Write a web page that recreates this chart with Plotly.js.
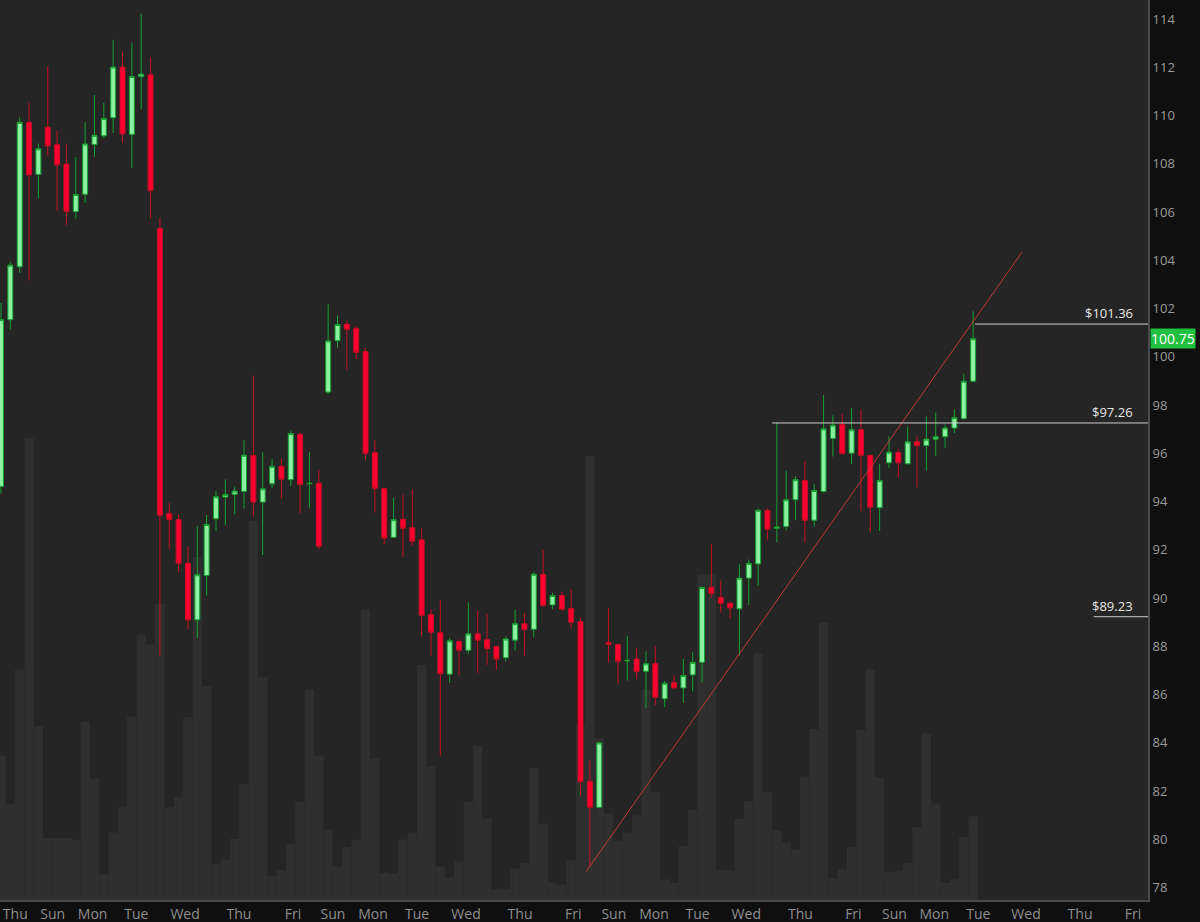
<!DOCTYPE html>
<html>
<head>
<meta charset="utf-8">
<script src="https://cdn.plot.ly/plotly-3.0.1.min.js"></script>
<style>
  html, body { margin: 0; padding: 0; background: #0f0f0f; }
  #chart { width: 1200px; height: 922px; }
</style>
</head>
<body>
<div id="chart"></div>
<script>
// ---- OHLC data (4-hour bars) ----
const openP = [94.63,101.54,103.73,109.72,107.56,109.52,108.79,107.99,106.02,106.74,
  108.80,109.16,109.91,112.01,109.22,111.61,111.69,105.32,93.50,93.25,
  91.45,89.10,90.94,93.29,94.19,94.30,94.42,95.92,93.98,94.74,
  95.46,94.91,96.79,94.74,94.76,98.54,100.67,101.35,101.18,100.22,
  96.03,94.54,92.52,93.27,92.92,92.42,89.32,88.57,86.85,88.20,
  87.84,88.52,88.28,88.00,87.53,88.26,88.94,88.71,90.99,89.72,
  90.11,89.57,89.03,82.41,81.33,88.16,88.08,87.40,87.48,86.97,
  87.28,85.83,86.50,86.28,86.82,87.34,90.45,90.03,89.79,89.56,
  90.83,91.42,93.64,92.90,92.97,94.08,94.88,93.23,94.42,96.62,
  97.21,96.01,96.98,95.92,93.75,95.61,96.03,95.57,96.48,96.32,
  96.59,96.69,97.05,97.44,98.99];
const highP = [102.24,103.94,109.92,110.53,108.84,112.05,109.37,108.84,108.28,109.73,
  110.85,110.53,113.14,112.64,113.02,114.21,112.42,105.76,93.95,93.47,
  92.15,92.98,93.44,94.44,94.92,94.63,96.54,99.23,96.05,95.76,
  95.79,96.95,96.85,96.05,95.29,102.18,101.72,101.47,101.28,100.37,
  96.54,94.55,94.16,94.29,94.51,92.89,89.54,89.94,88.35,88.30,
  89.83,89.49,89.35,88.02,88.41,89.53,89.38,91.09,92.00,90.23,
  90.27,90.36,89.19,83.27,84.03,89.60,88.11,88.45,87.95,87.80,
  88.00,86.57,86.80,87.48,87.75,90.48,92.25,90.73,89.85,91.40,
  91.60,93.72,93.71,97.27,95.28,95.05,95.67,94.74,98.41,97.58,
  97.63,97.87,97.82,95.92,95.57,96.70,96.17,97.12,96.70,97.53,
  97.69,97.20,97.82,99.30,101.89];
const lowP = [94.33,101.12,103.48,103.16,106.58,108.35,106.04,105.46,105.73,106.38,
  108.29,109.06,109.28,108.87,107.83,110.25,105.73,87.62,92.05,91.08,
  88.71,88.35,90.12,92.78,93.02,93.48,93.71,93.39,91.78,94.56,
  94.12,94.64,93.52,93.75,92.03,98.46,100.38,99.48,99.90,95.74,
  93.55,92.24,92.49,91.70,92.18,88.42,87.59,83.47,86.49,86.80,
  87.69,86.90,87.24,87.04,87.38,87.84,87.62,88.38,89.65,89.54,
  89.49,88.74,81.81,78.91,81.29,87.33,86.46,86.58,86.64,85.43,
  85.56,85.48,86.26,85.66,86.14,86.51,90.03,89.40,89.15,87.62,
  89.72,90.50,92.39,92.32,92.81,93.23,92.30,92.97,94.37,95.87,
  95.95,95.56,93.61,92.75,92.78,95.39,95.00,95.54,94.59,95.29,
  95.90,96.22,96.84,97.40,98.99];
const closeP = [101.54,103.80,109.72,107.54,108.62,108.74,107.96,106.02,106.73,108.82,
  109.18,109.88,112.01,109.24,111.62,111.72,106.89,93.44,93.26,91.45,
  89.10,90.97,93.05,94.20,94.30,94.44,95.92,93.98,94.53,95.46,
  94.93,96.82,94.71,94.76,92.15,100.66,101.34,101.14,100.19,96.00,
  94.55,92.49,93.25,92.90,92.36,89.29,88.59,86.87,88.23,87.84,
  88.52,88.26,87.91,87.48,88.31,88.94,88.70,90.99,89.69,90.11,
  89.54,89.00,82.40,81.33,84.00,88.08,87.38,87.42,86.96,87.28,
  85.89,86.47,86.28,86.79,87.34,90.44,90.20,89.79,89.60,90.83,
  91.44,93.64,92.86,92.95,94.08,94.91,93.23,94.46,97.02,97.17,
  95.99,96.98,95.92,93.77,94.88,96.05,95.61,96.48,96.32,96.59,
  96.69,97.05,97.48,98.99,100.75];
// relative volume (background bars)
const volume = [16.0,10.7,25.6,51.3,19.3,6.9,6.9,6.9,6.7,19.8,
  13.5,2.9,7.5,10.3,20.4,29.5,28.4,32.9,10.3,11.4,
  20.3,38.1,23.8,4.0,4.5,6.8,12.9,42.1,24.8,2.7,
  3.3,6.2,10.9,23.4,16.0,7.8,3.7,5.9,6.7,32.3,
  15.7,3.0,2.9,6.7,7.4,26.1,14.8,3.7,2.5,4.3,
  10.9,17.1,9.1,1.2,1.2,3.5,4.1,14.7,8.5,1.9,
  1.7,4.4,19.4,49.3,18.0,9.6,6.6,7.4,9.4,23.4,
  12.0,2.3,1.9,6.0,10.0,36.2,36.2,3.3,3.3,9.0,
  11.0,27.4,12.0,7.7,6.4,5.6,13.6,19.0,30.8,2.4,
  3.4,5.9,18.9,25.6,13.6,3.1,3.2,4.1,8.1,18.5,
  10.6,1.9,2.3,7.0,9.3];

// day labels along the time axis (positions in bar-index units)
const dayLabels = ['Thu','Sun','Mon','Tue','Wed','Thu','Fri','Sun','Mon','Tue','Wed','Thu','Fri',
  'Sun','Mon','Tue','Wed','Thu','Fri','Sun','Mon','Tue','Wed','Thu','Fri'];
const dayPos = [1.53,5.53,9.80,14.48,19.69,25.46,31.24,35.52,39.80,44.51,49.75,55.53,61.23,
  65.56,69.86,74.52,79.73,85.53,91.19,95.59,99.85,104.56,109.66,115.44,121.11];

// drawn annotations: trend line and horizontal levels
const trendX = [62.59, 109.23];
const trendY = [78.66, 104.34];
const levels = [101.36, 97.26, 89.23];
const levelStart = [104.2, 82.5, 116.9];
const lastPrice = 100.75;

const xMin = -0.107, xMax = 122.71;
const barIdx = openP.map((_, i) => i);

const traces = [];
traces.push({
  type: 'bar', x: barIdx, y: volume, width: 1, yaxis: 'y',
  marker: { color: '#2f2f2f', line: { width: 0 } }, hoverinfo: 'skip', showlegend: false
});
traces.push({
  type: 'candlestick', x: barIdx, open: openP, high: highP, low: lowP, close: closeP,
  xaxis: 'x', yaxis: 'y2', showlegend: false, whiskerwidth: 0,
  increasing: { fillcolor: '#8cf0a2', line: { color: '#16a030', width: 1 } },
  decreasing: { fillcolor: '#ff0030', line: { color: '#c80f25', width: 1 } },
  hoverinfo: 'skip'
});
traces.push({
  type: 'scatter', mode: 'lines', x: trendX, y: trendY, yaxis: 'y2',
  line: { color: '#c23a3a', width: 1 }, hoverinfo: 'skip', showlegend: false
});
levels.forEach((lv, k) => {
  traces.push({
    type: 'scatter', mode: 'lines', x: [levelStart[k], xMax], y: [lv, lv], yaxis: 'y2',
    line: { color: '#cfcfcf', width: 1 }, hoverinfo: 'skip', showlegend: false
  });
});

const annotations = levels.map(lv => ({
  xref: 'paper', x: 1, xanchor: 'right', xshift: -13,
  yref: 'y2', y: lv, yanchor: 'bottom', yshift: 0,
  text: '$' + lv.toFixed(2), showarrow: false,
  font: { family: 'Open Sans, sans-serif', size: 13, color: '#e6e6e6' }
}));
annotations.push({
  xref: 'paper', x: 1, xanchor: 'left', xshift: 2,
  yref: 'y2', y: lastPrice, yanchor: 'middle',
  text: lastPrice.toFixed(2), showarrow: false, bgcolor: '#20c040', borderpad: 0,
  font: { family: 'Open Sans, sans-serif', size: 14, color: '#ffffff' }
});

const layout = {
  width: 1200, height: 922,
  margin: { l: 0, r: 52, t: 0, b: 22, pad: 0 },
  paper_bgcolor: '#0f0f0f', plot_bgcolor: '#252525',
  showlegend: false, hovermode: false, dragmode: false,
  boxgap: 0.47, boxgroupgap: 0,
  font: { family: 'Open Sans, sans-serif', color: '#999999' },
  xaxis: {
    range: [xMin, xMax], showgrid: false, zeroline: false,
    rangeslider: { visible: false },
    tickmode: 'array', tickvals: dayPos, ticktext: dayLabels, ticks: '',
    tickfont: { size: 14, color: '#8e8e8e' },
    showline: true, linecolor: '#4a4a4a', linewidth: 2
  },
  yaxis: { range: [0, 100], visible: false, fixedrange: true },
  yaxis2: {
    overlaying: 'y', side: 'right', range: [77.49, 114.79],
    tick0: 0, dtick: 2, showgrid: false, zeroline: false, ticks: '',
    tickfont: { size: 13, color: '#9a9a9a' },
    showline: true, linecolor: '#4a4a4a', linewidth: 2
  },
  annotations: annotations
};

Plotly.newPlot('chart', traces, layout, { displayModeBar: false, staticPlot: true });
</script>
</body>
</html>
